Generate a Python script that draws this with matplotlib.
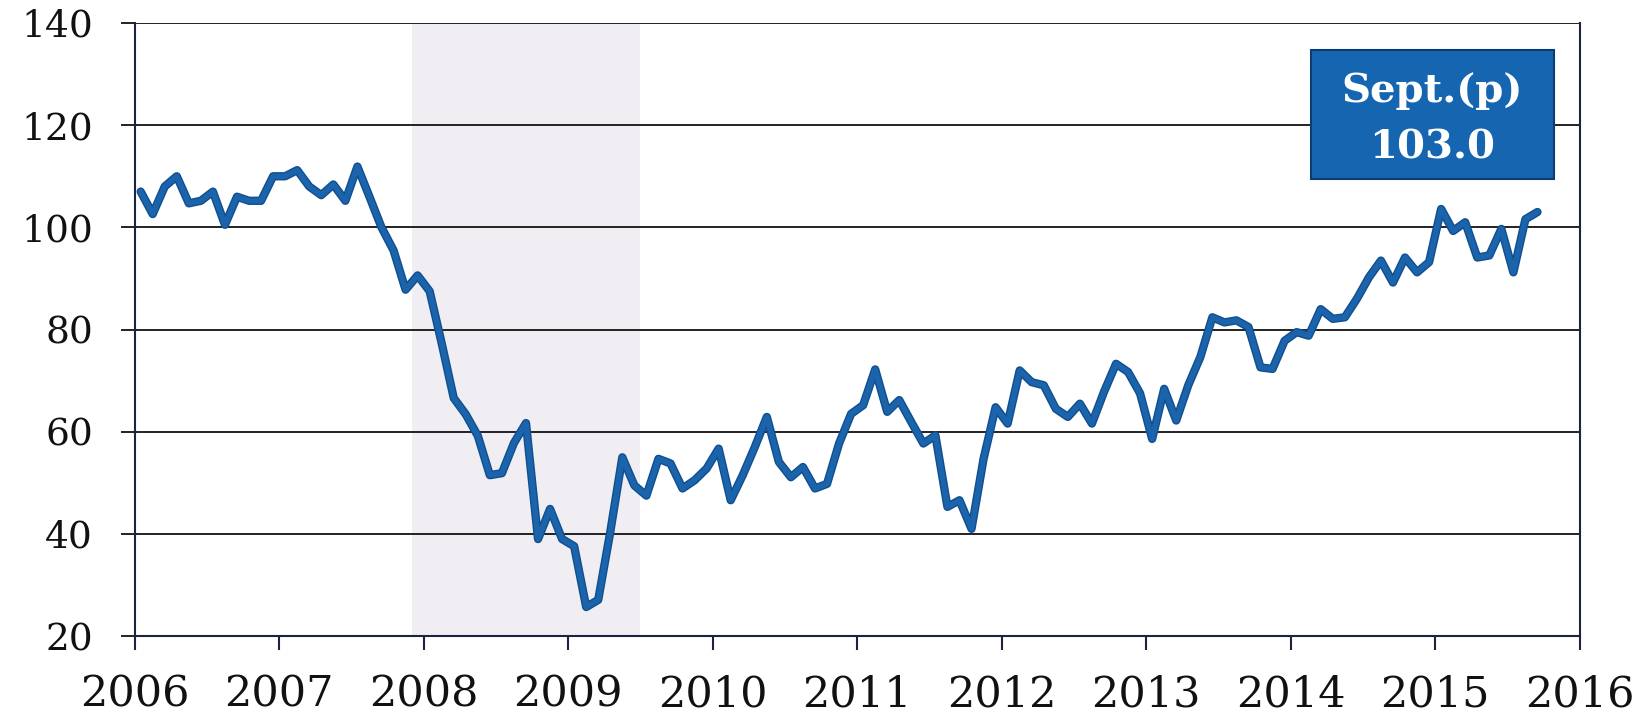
import numpy as np
import matplotlib
matplotlib.use('Agg')
import matplotlib.pyplot as plt
from matplotlib.patches import Rectangle

# monthly index values, Jan 2006 .. Sept 2015
start_year = 2006
index_values = [
    107.0, 102.6, 108.0, 110.0, 104.7, 105.2, 107.0, 100.5, 106.0, 105.2, 105.2, 110.0,  # 2006
    110.0, 111.2, 108.0, 106.3, 108.4, 105.2, 111.9, 106.0, 100.0, 95.5, 87.8, 90.6,     # 2007
    87.5, 77.3, 66.6, 63.4, 59.2, 51.5, 51.9, 57.8, 61.7, 39.0, 44.9, 39.0,              # 2008
    37.6, 25.7, 27.1, 40.4, 55.0, 49.5, 47.5, 54.7, 53.8, 48.9, 50.5, 52.8,              # 2009
    56.7, 46.6, 51.5, 57.0, 62.9, 54.1, 51.1, 53.1, 48.9, 49.8, 57.7, 63.5,              # 2010
    65.2, 72.2, 63.9, 66.2, 61.9, 57.7, 59.3, 45.3, 46.6, 41.0, 54.7, 64.8,              # 2011
    61.6, 72.0, 69.7, 69.1, 64.5, 62.9, 65.5, 61.6, 67.8, 73.3, 71.7, 67.5,              # 2012
    58.6, 68.4, 62.2, 69.1, 74.6, 82.4, 81.4, 81.8, 80.5, 72.6, 72.3, 77.8,              # 2013
    79.5, 78.8, 84.0, 82.1, 82.4, 86.0, 90.2, 93.5, 89.2, 94.1, 91.2, 93.2,              # 2014
    103.6, 99.3, 101.0, 94.1, 94.5, 99.7, 91.2, 101.6, 103.0,                            # 2015
]
recession = (2007.92, 2009.5)
year_ticks = list(range(2006, 2017))
y_ticks = [20, 40, 60, 80, 100, 120, 140]
label_lines = ['Sept.(p)', '103.0']

months = np.arange(len(index_values))
x = start_year + (months + 0.5) / 12.0

plt.rcParams['font.family'] = ['DejaVu Serif']

fig = plt.figure(figsize=(16.42, 7.18), dpi=100)
ax = fig.add_axes([0.082, 0.114, 0.880, 0.854])

ax.axvspan(recession[0], recession[1], color='#f0eef3', zorder=0, lw=0)
ax.plot(x, index_values, color='#0f4f8f', lw=6.0, solid_joinstyle='round',
        solid_capstyle='round', zorder=3)
ax.plot(x, index_values, color='#1b64ab', lw=4.0, solid_joinstyle='round',
        solid_capstyle='round', zorder=3)

ax.set_xlim(2006, 2016)
ax.set_ylim(20, 140)
ax.set_xticks(year_ticks)
ax.set_yticks(y_ticks)
ax.set_xticklabels([str(y) for y in year_ticks], fontsize=31, color='#111111')
ax.set_yticklabels([str(v) for v in y_ticks], fontsize=27, color='#111111')
ax.tick_params(axis='x', length=10, width=1.5, color='#1a2440', pad=17, direction='out')
ax.tick_params(axis='y', length=10, width=1.4, color='#222222', pad=20, direction='out')
ax.yaxis.grid(True, color='#222222', lw=1.4, zorder=1)

for side in ['left', 'right', 'bottom']:
    ax.spines[side].set_color('#1a2440')
    ax.spines[side].set_linewidth(1.5)
ax.spines['top'].set_visible(False)

# annotation box for latest value
box = Rectangle((2014.14, 109.4), 1.68, 25.3, facecolor='#1565b0',
                edgecolor='#0d3c73', lw=1.5, zorder=4)
ax.add_patch(box)
ax.text(2014.98, 126.6, label_lines[0], ha='center', va='center', fontsize=29,
        fontweight='bold', color='white', zorder=5)
ax.text(2014.98, 115.6, label_lines[1], ha='center', va='center', fontsize=29,
        fontweight='bold', color='white', zorder=5)

fig.savefig('out.png', dpi=100)
